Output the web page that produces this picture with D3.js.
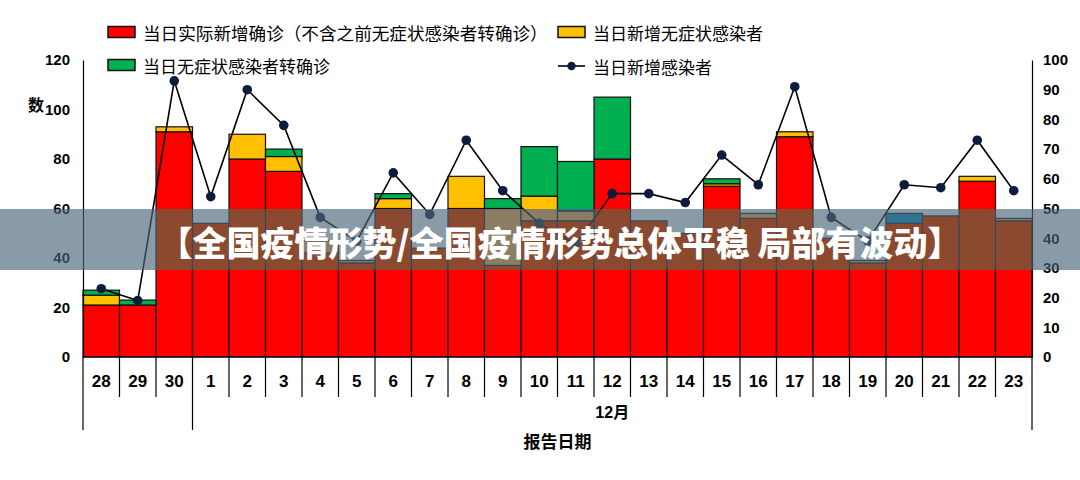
<!DOCTYPE html>
<html>
<head>
<meta charset="utf-8">
<script src="https://cdn.jsdelivr.net/npm/d3@7"></script>
<style>
  html, body { margin: 0; padding: 0; background: #fff; }
  svg { display: block; }
</style>
</head>
<body>
<svg id="chart" width="1080" height="480"></svg>
<script>
// data
const cats = ['28', '29', '30', '1', '2', '3', '4', '5', '6', '7', '8', '9', '10',
  '11', '12', '13', '14', '15', '16', '17', '18', '19', '20', '21', '22', '23'];
const redVals = [21, 21, 91, 54, 80, 75, 42, 38, 60, 44, 60, 37, 55, 55, 80, 55, 50, 69, 56, 89, 48, 38, 54, 57, 71, 55];
const yellowVals = [4, 0, 2, 0, 10, 6, 5, 1, 4, 0, 13, 23, 10, 4, 0, 0, 0, 1, 2, 2, 0, 1, 0, 0, 2, 1];
const greenVals = [2, 2, 0, 0, 0, 3, 0, 0, 2, 0, 0, 4, 20, 20, 25, 0, 0, 2, 0, 0, 0, 0, 4, 0, 0, 0];
const lineVals = [23, 19, 93, 54, 90, 78, 47, 39, 62, 48, 73, 56, 45, 38, 55, 55, 52, 68, 58, 91, 47, 39, 58, 57, 73, 56];
const leftTicks = [0, 20, 40, 60, 80, 100, 120];
const rightTicks = [0, 10, 20, 30, 40, 50, 60, 70, 80, 90, 100];
const decIndex = 3; // first December category

const seriesNames = {
  red: '当日实际新增确诊（不含之前无症状感染者转确诊）',
  yellow: '当日新增无症状感染者',
  green: '当日无症状感染者转确诊',
  line: '当日新增感染者'
};
const colors = { red: '#ff0000', yellow: '#ffc000', green: '#00b050' };

const margin = { top: 60, right: 48, bottom: 123, left: 83 };
const width = 1080;
const height = 480;
const cjk = '"Noto Sans CJK SC", "Noto Sans", sans-serif';
const num = '"Liberation Sans", Arial, sans-serif';
const narrow = '"Liberation Sans Narrow", "Liberation Sans", Arial, sans-serif';

const svg = d3.select('#chart');
const defs = svg.append('defs');

defs.append('clipPath').attr('id', 'bannerClip')
  .append('rect').attr('x', 0).attr('y', 209).attr('width', width).attr('height', 61);

// tint that the banner puts on whatever lies under it
defs.append('filter')
  .attr('id', 'tint')
  .attr('filterUnits', 'userSpaceOnUse')
  .attr('x', 0).attr('y', 0).attr('width', width).attr('height', height)
  .attr('color-interpolation-filters', 'sRGB')
  .append('feColorMatrix')
  .attr('type', 'matrix')
  .attr('values', [
    '0.349 0 -0.004 0 0.196',
    '0.035 0.265 0.052 0 0.255',
    '-0.129 0.276 0.198 0 0.314',
    '0 0 0 1 0'
  ].join(' '));

const g = svg.append('g').attr('id', 'plot');
g.append('rect').attr('width', width).attr('height', height).attr('fill', '#fff');

const x = d3.scaleBand()
  .domain(cats)
  .range([margin.left, width - margin.right])
  .padding(0);

const yL = d3.scaleLinear().domain([0, 120]).range([height - margin.bottom, margin.top]);
const yR = d3.scaleLinear().domain([0, 100]).range([height - margin.bottom, margin.top]);

const rows = cats.map((c, i) => ({ cat: c, red: redVals[i], yellow: yellowVals[i], green: greenVals[i] }));
const stacked = d3.stack().keys(['red', 'yellow', 'green'])(rows);

// stacked bars
g.append('g')
  .selectAll('g')
  .data(stacked)
  .join('g')
  .attr('fill', d => colors[d.key])
  .selectAll('rect')
  .data(d => d.filter(s => s[1] > s[0]))
  .join('rect')
  .attr('x', d => x(d.data.cat))
  .attr('y', d => yL(d[1]))
  .attr('width', x.bandwidth())
  .attr('height', d => yL(d[0]) - yL(d[1]))
  .attr('stroke', '#111')
  .attr('stroke-width', 1.2);

// line of new infections on the right axis
const cx = d => x(d) + x.bandwidth() / 2;
g.append('path')
  .datum(lineVals)
  .attr('fill', 'none')
  .attr('stroke', '#000')
  .attr('stroke-width', 1.6)
  .attr('d', d3.line().x((d, i) => cx(cats[i])).y(d => yR(d)));

g.append('g')
  .selectAll('circle')
  .data(lineVals)
  .join('circle')
  .attr('cx', (d, i) => cx(cats[i]))
  .attr('cy', d => yR(d))
  .attr('r', 4.8)
  .attr('fill', '#0d1b3e');

// left axis
const axL = g.append('g')
  .attr('transform', `translate(${margin.left},0)`)
  .call(d3.axisLeft(yL).tickValues(leftTicks).tickSize(0).tickPadding(13));
axL.select('.domain').attr('stroke', '#000').attr('stroke-width', 1.2);
axL.selectAll('text')
  .style('font-family', num).style('font-weight', 'bold').style('font-size', '15px').attr('fill', '#000');

// right axis
const axR = g.append('g')
  .attr('transform', `translate(${width - margin.right},0)`)
  .call(d3.axisRight(yR).tickValues(rightTicks).tickSize(0).tickPadding(11));
axR.select('.domain').attr('stroke', '#000').attr('stroke-width', 1.2);
axR.selectAll('text')
  .style('font-family', num).style('font-weight', 'bold').style('font-size', '15px').attr('fill', '#000');

g.append('text')
  .attr('x', 36).attr('y', 104)
  .attr('text-anchor', 'middle').attr('dominant-baseline', 'central')
  .style('font-family', cjk).style('font-size', '16px').style('font-weight', 'bold')
  .text('数');

// category axis with separators
const y0 = yL(0);
g.append('line')
  .attr('x1', margin.left).attr('x2', width - margin.right)
  .attr('y1', y0).attr('y2', y0)
  .attr('stroke', '#000').attr('stroke-width', 1.2);

const seps = cats.map(c => x(c)).concat([width - margin.right]);
g.append('g')
  .selectAll('line')
  .data(seps)
  .join('line')
  .attr('x1', d => d).attr('x2', d => d)
  .attr('y1', y0)
  .attr('y2', (d, i) => (i === 0 || i === decIndex || i === seps.length - 1) ? 430 : 397)
  .attr('stroke', '#000').attr('stroke-width', 1.2);

g.append('g')
  .selectAll('text')
  .data(cats)
  .join('text')
  .attr('x', d => cx(d))
  .attr('y', 381)
  .attr('text-anchor', 'middle').attr('dominant-baseline', 'central')
  .style('font-family', narrow).style('font-weight', 'bold').style('font-size', '17px')
  .text(d => d);

g.append('text')
  .attr('x', (x(cats[decIndex]) + width - margin.right) / 2).attr('y', 412)
  .attr('text-anchor', 'middle').attr('dominant-baseline', 'central')
  .style('font-family', narrow + ', ' + cjk).style('font-weight', 'bold').style('font-size', '16px')
  .text('12月');

g.append('text')
  .attr('x', (margin.left + width - margin.right) / 2).attr('y', 440)
  .attr('text-anchor', 'middle').attr('dominant-baseline', 'central')
  .style('font-family', cjk).style('font-size', '17px').style('font-weight', 'bold')
  .text('报告日期');

// legend
const legend = [
  { key: 'red', x: 108, y: 32 },
  { key: 'yellow', x: 558, y: 32 },
  { key: 'green', x: 108, y: 65 },
  { key: 'line', x: 558, y: 66 }
];
const lg = g.append('g').selectAll('g').data(legend).join('g')
  .attr('transform', d => `translate(${d.x},${d.y})`);
lg.filter(d => d.key !== 'line').append('rect')
  .attr('x', 0).attr('y', -5.5).attr('width', 27).attr('height', 11)
  .attr('fill', d => colors[d.key]).attr('stroke', '#111').attr('stroke-width', 1.5);
lg.filter(d => d.key === 'line').append('line')
  .attr('x1', 0).attr('x2', 27).attr('stroke', '#000').attr('stroke-width', 1.6);
lg.filter(d => d.key === 'line').append('circle')
  .attr('cx', 13.5).attr('r', 4.2).attr('fill', '#0d1b3e');
lg.append('text')
  .attr('x', 35).attr('dominant-baseline', 'central')
  .style('font-family', cjk).style('font-size', d => d.key === 'red' ? '17.6px' : '17px')
  .text(d => seriesNames[d.key]);

// banner laid over the chart
svg.append('use')
  .attr('href', '#plot')
  .attr('clip-path', 'url(#bannerClip)')
  .attr('filter', 'url(#tint)');

svg.append('text')
  .attr('x', 560).attr('y', 241)
  .attr('text-anchor', 'middle').attr('dominant-baseline', 'central')
  .attr('fill', '#fff')
  .style('font-family', cjk).style('font-weight', '900').style('font-size', '34px')
  .text('【全国疫情形势/全国疫情形势总体平稳 局部有波动】');
</script>
</body>
</html>
